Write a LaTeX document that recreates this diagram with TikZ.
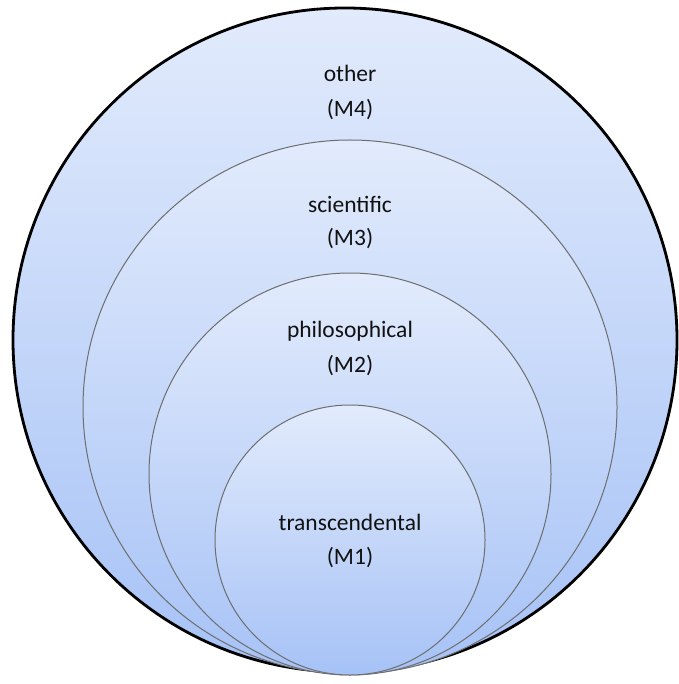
\documentclass[tikz,border=0pt]{standalone}
\usepackage{fontspec}
\setmainfont{Carlito}
\definecolor{topc}{HTML}{E2EBFC}
\definecolor{botc}{HTML}{A6C2F6}
\definecolor{edgec}{HTML}{6E6E6E}
\definecolor{txtc}{HTML}{111111}
\begin{document}
\begin{tikzpicture}[x=1pt,y=-1pt,
  outerring/.style={draw=black,line width=2.8pt,top color=topc,bottom color=botc},
  innerring/.style={draw=edgec,line width=1pt,top color=topc,bottom color=botc},
  lbl/.style={text=txtc,font=\fontsize{23.5}{28}\selectfont,inner sep=0pt,anchor=center}]
\useasboundingbox (0,0) rectangle (678,684);
% outer circle (M4)
\path[outerring] (345,340) circle (332);
% scientific (M3)
\path[innerring] (350,407) circle (267);
% philosophical (M2)
\path[innerring] (350,474) circle (201);
% transcendental (M1)
\path[innerring] (350,540) circle (135);
% labels
\node[lbl] (t4) at (350,73) {other};
\node[lbl] (m4) at (350,110) {(M4)};
\node[lbl] (t3) at (350,204) {scientific};
\node[lbl] (m3) at (350,239) {(M3)};
\node[lbl] (t2) at (350,331) {philosophical};
\node[lbl] (m2) at (350,366) {(M2)};
\node[lbl] (t1) at (350,522) {transcendental};
\node[lbl] (m1) at (350,558) {(M1)};
\end{tikzpicture}
\end{document}
